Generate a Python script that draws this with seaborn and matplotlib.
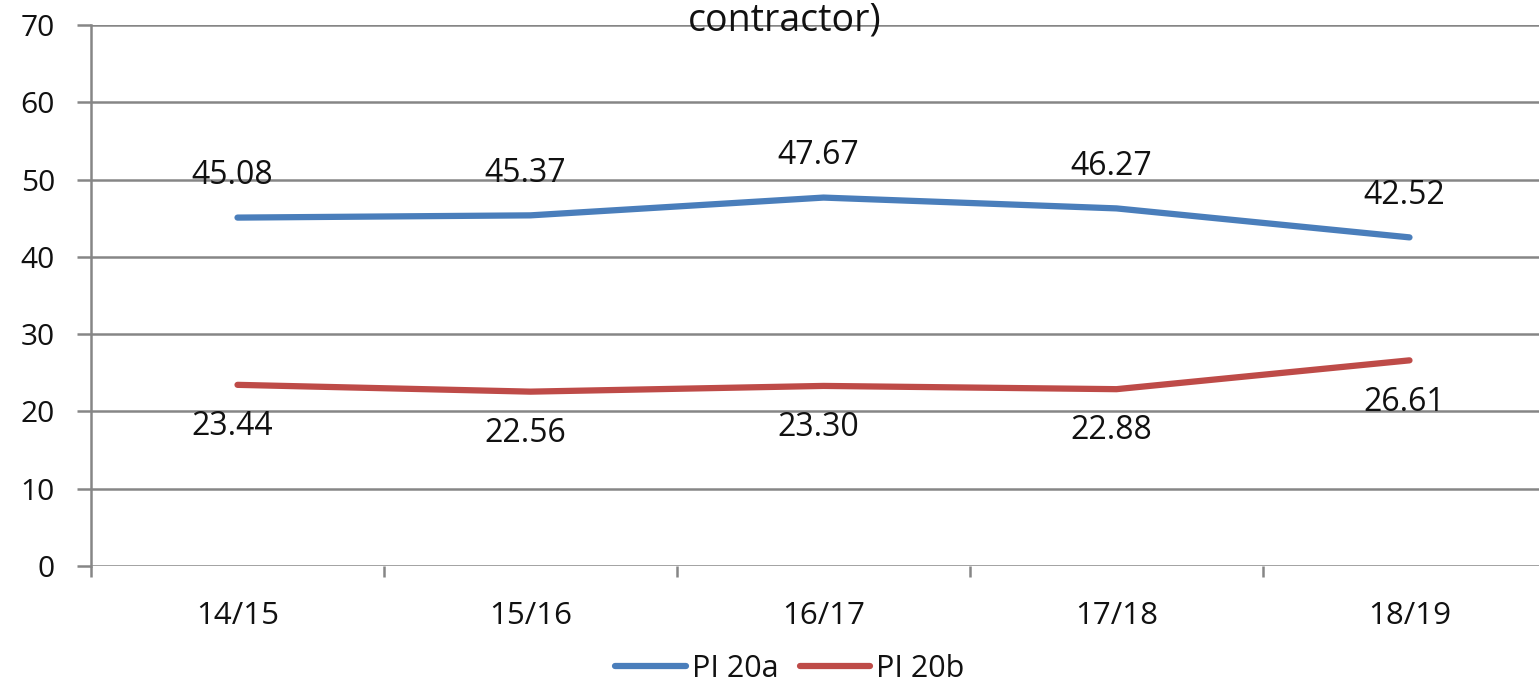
import pandas as pd
import matplotlib.pyplot as plt
import seaborn as sns

years = ["14/15", "15/16", "16/17", "17/18", "18/19"]
pi_20a = [45.08, 45.37, 47.67, 46.27, 42.52]
pi_20b = [23.44, 22.56, 23.30, 22.88, 26.61]
series_names = ["PI 20a", "PI 20b"]
colors = ["#4A7EBB", "#BE4B48"]

df = pd.DataFrame({
    "year": years * 2,
    "x": list(range(len(years))) * 2,
    "value": pi_20a + pi_20b,
    "series": [series_names[0]] * len(years) + [series_names[1]] * len(years),
})

sns.set_style("white")
plt.rcParams["font.family"] = ["Open Sans", "DejaVu Sans"]

fig = plt.figure(figsize=(15.39, 6.84), dpi=100)
ax = fig.add_axes([91 / 1539, 118 / 684, 1465 / 1539, 541 / 684])

sns.lineplot(data=df, x="x", y="value", hue="series", palette=colors,
             linewidth=4.5, ax=ax, legend=True)

grid_c = "#868686"
txt_c = "#111111"
ax.set_xlim(-0.5, len(years) - 0.5)
ax.set_ylim(0, 70)
ax.set_yticks(range(0, 71, 10))
ax.yaxis.grid(True, color=grid_c, linewidth=1.8)
ax.set_axisbelow(True)
for s in ["top", "right", "bottom"]:
    ax.spines[s].set_visible(False)
ax.spines["left"].set_color(grid_c)
ax.spines["left"].set_linewidth(1.8)
ax.tick_params(axis="y", left=True, length=10, width=1.8, color=grid_c,
               labelsize=21.5, labelcolor=txt_c, pad=16)

ax.set_xticks(range(len(years)))
ax.set_xticklabels(years)
ax.set_xticks([i - 0.5 for i in range(len(years) + 1)], minor=True)
ax.tick_params(axis="x", which="major", bottom=False, labelsize=22.5, labelcolor=txt_c, pad=22)
ax.tick_params(axis="x", which="minor", bottom=True, length=8, width=1.8, color=grid_c, direction="out")
ax.set_xlabel("")
ax.set_ylabel("")

for i, v in enumerate(pi_20a):
    ax.annotate(f"{v:.2f}", (i, v), xytext=(-4, 30), textcoords="offset points",
                ha="center", va="center", fontsize=23, color=txt_c)
for i, v in enumerate(pi_20b):
    ax.annotate(f"{v:.2f}", (i, v), xytext=(-4, -30), textcoords="offset points",
                ha="center", va="center", fontsize=23, color=txt_c)

handles, labels = ax.get_legend_handles_labels()
ax.legend(handles, labels, loc="center", bbox_to_anchor=(790 / 1539, 15 / 684),
          bbox_transform=fig.transFigure, ncol=2, frameon=False, fontsize=22,
          handlelength=2.3, handletextpad=0.2, columnspacing=0.7,
          labelcolor=txt_c)

# title continues from a first line that is outside the picture
fig.text(785 / 1539, 1 - 2 / 684, "contractor)", ha="center", va="top",
         fontsize=27, color=txt_c)

fig.savefig("out.png", dpi=100)
